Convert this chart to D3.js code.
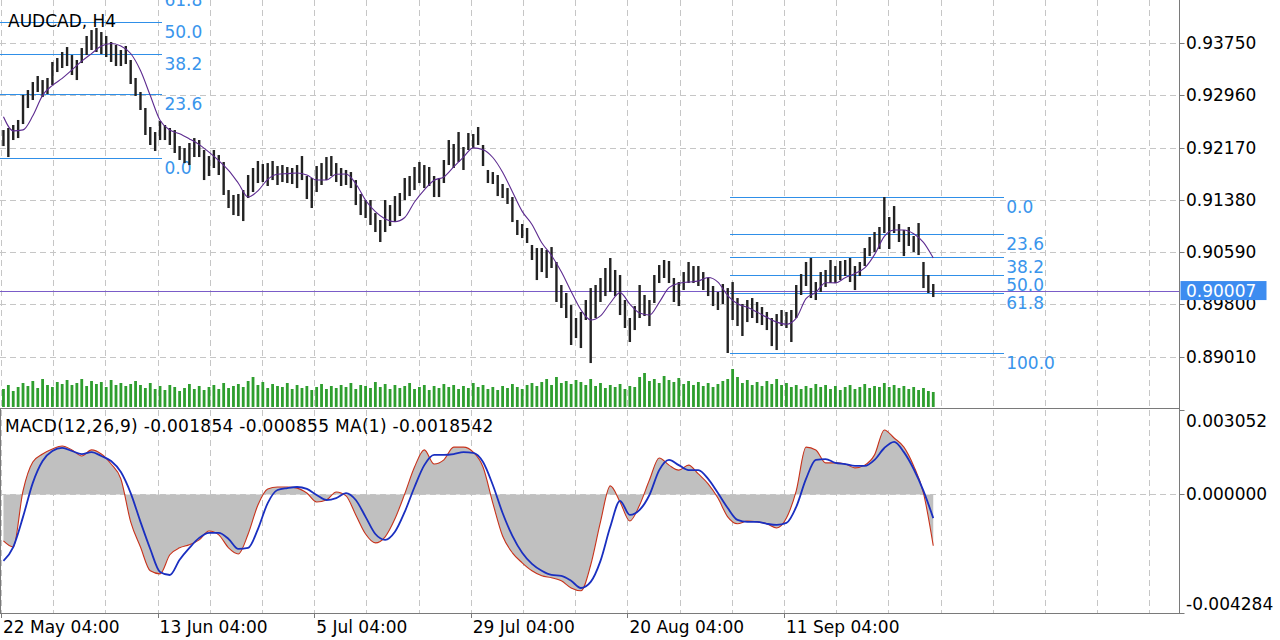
<!DOCTYPE html>
<html><head><meta charset="utf-8">
<script src="https://cdn.jsdelivr.net/npm/d3@7"></script>
<style>
html,body{margin:0;padding:0;background:#fff;}
svg{display:block;font-family:"DejaVu Sans",sans-serif;}
</style></head><body>
<svg id="chart" width="1280" height="640"></svg>
<script>
// ---- data (12-hour aggregated bars, 3 H4 bars each) ----
const highs=[0.92434,0.92465,0.92510,0.92586,0.92964,0.93039,0.93160,0.93251,0.93190,0.93221,
0.93463,0.93523,0.93614,0.93689,0.93568,0.93493,0.93674,0.93856,0.93946,0.93977,
0.93916,0.93856,0.93765,0.93720,0.93644,0.93705,0.93493,0.93221,0.93009,0.92767,
0.92480,0.92404,0.92571,0.92510,0.92465,0.92434,0.92192,0.92162,0.92238,0.92313,
0.92283,0.92132,0.92041,0.92132,0.92056,0.91951,0.91527,0.91452,0.91467,0.91527,
0.91754,0.91860,0.91966,0.91920,0.91935,0.91966,0.91890,0.91905,0.91875,0.91860,
0.91905,0.92041,0.91739,0.91709,0.91890,0.91935,0.92026,0.92041,0.91935,0.91860,
0.91830,0.91799,0.91678,0.91467,0.91376,0.91376,0.91179,0.91074,0.91376,0.91300,
0.91436,0.91482,0.91709,0.91739,0.91875,0.91951,0.91905,0.91875,0.91739,0.91709,
0.91981,0.92283,0.92223,0.92404,0.92177,0.92389,0.92374,0.92480,0.92208,0.91830,
0.91799,0.91754,0.91618,0.91557,0.91421,0.91074,0.91013,0.90953,0.90696,0.90650,
0.90650,0.90620,0.90665,0.90439,0.90091,0.89970,0.89788,0.89592,0.89683,0.89864,
0.90045,0.90091,0.90197,0.90348,0.90499,0.90318,0.90242,0.89864,0.89592,0.89773,
0.90091,0.89940,0.89864,0.90242,0.90393,0.90469,0.90454,0.90197,0.90136,0.90287,
0.90439,0.90378,0.90378,0.90287,0.90197,0.90076,0.89985,0.90106,0.90045,0.90136,
0.89894,0.89804,0.89864,0.89894,0.89834,0.89758,0.89683,0.89592,0.89652,0.89713,
0.89683,0.89713,0.90091,0.90257,0.90439,0.90499,0.90136,0.90287,0.90318,0.90469,
0.90378,0.90454,0.90469,0.90499,0.90378,0.90439,0.90650,0.90817,0.90892,0.90968,
0.91421,0.91119,0.91285,0.91013,0.90922,0.90968,0.90832,0.91028,0.90439,0.90242,
0.90106];
const lows=[0.92192,0.92026,0.92283,0.92313,0.92525,0.92767,0.92888,0.93009,0.92933,0.92979,
0.93115,0.93311,0.93372,0.93402,0.93266,0.93190,0.93447,0.93568,0.93644,0.93614,
0.93584,0.93538,0.93463,0.93402,0.93402,0.93432,0.93130,0.92949,0.92737,0.92359,
0.92208,0.92117,0.92283,0.92283,0.92208,0.92087,0.91981,0.91935,0.91905,0.92026,
0.92026,0.91678,0.91739,0.91860,0.91754,0.91452,0.91255,0.91149,0.91134,0.91058,
0.91406,0.91497,0.91633,0.91648,0.91588,0.91678,0.91603,0.91648,0.91633,0.91618,
0.91557,0.91678,0.91391,0.91255,0.91497,0.91603,0.91678,0.91739,0.91648,0.91588,
0.91603,0.91557,0.91300,0.91149,0.91104,0.90998,0.90892,0.90741,0.90892,0.90983,
0.91043,0.91134,0.91376,0.91436,0.91527,0.91633,0.91557,0.91588,0.91421,0.91421,
0.91633,0.91905,0.91860,0.91951,0.91830,0.92132,0.92162,0.92208,0.91890,0.91633,
0.91618,0.91436,0.91406,0.91316,0.91043,0.90847,0.90801,0.90726,0.90469,0.90166,
0.90287,0.90197,0.90348,0.89834,0.89743,0.89592,0.89184,0.89289,0.89138,0.89562,
0.88911,0.89592,0.89834,0.89924,0.89985,0.89924,0.89637,0.89441,0.89229,0.89410,
0.89592,0.89622,0.89471,0.89819,0.90121,0.90197,0.90121,0.89834,0.89773,0.90015,
0.90121,0.90121,0.90076,0.90015,0.89924,0.89773,0.89713,0.89804,0.89063,0.89562,
0.89471,0.89320,0.89531,0.89592,0.89516,0.89486,0.89410,0.89168,0.89108,0.89471,
0.89441,0.89229,0.89592,0.89940,0.90076,0.89894,0.89864,0.89985,0.90061,0.90121,
0.90121,0.90166,0.90227,0.90136,0.90015,0.90227,0.90378,0.90529,0.90590,0.90635,
0.90877,0.90635,0.90877,0.90741,0.90529,0.90681,0.90590,0.90544,0.90045,0.89970,
0.89909];
const volumes=[1800,2200,1600,2000,2400,2100,2600,1900,2800,2200,
2000,2500,2300,2700,2200,2400,2800,2100,2600,2300,
2500,2000,2700,2200,2400,2100,2300,2600,2200,1900,
2400,1800,2100,1700,2200,2000,1600,1900,2300,1800,
2100,1700,2000,2200,1800,2400,1900,2100,2300,2000,
2600,3000,2200,2500,1900,2300,2100,2000,2400,1800,
2200,1900,2100,1700,2000,2300,1800,2100,1900,2200,
2000,2400,1800,2200,2100,1900,2500,2000,2300,1800,
2200,1900,2100,2400,1800,2000,2200,1700,2100,1900,
2300,2000,2200,1800,2100,1900,2400,2000,2200,1800,
2000,1700,2100,1900,2300,2000,1800,2200,2400,2100,
2500,2800,2200,3000,2400,2600,2300,2700,2500,2200,
2800,2100,2400,1900,2200,2000,2300,1800,2100,2000,
3000,3400,2600,2800,2400,3100,2700,2500,2900,2300,
2600,2200,2500,2100,2400,2000,2300,2600,2800,3800,
3000,2400,2700,2200,2500,2100,2600,2300,2800,2200,
2400,2000,2200,1800,2100,1900,2300,2000,2200,1800,
2100,1700,2000,2200,1800,2000,2300,1900,2100,2000,
2400,2000,2200,1900,2100,1800,2000,1700,1900,1600,
1500];
// moving average, one value per two bars
const maValues=[0.92636,0.92422,0.92437,0.92649,0.92958,0.93109,0.93215,0.93343,0.93475,0.93590,
0.93703,0.93742,0.93705,0.93591,0.93334,0.92956,0.92581,0.92434,0.92377,0.92300,
0.92214,0.92100,0.91972,0.91824,0.91630,0.91421,0.91515,0.91688,0.91765,0.91775,
0.91784,0.91753,0.91678,0.91678,0.91766,0.91769,0.91622,0.91372,0.91199,0.91089,
0.91048,0.91111,0.91346,0.91530,0.91675,0.91724,0.91877,0.92025,0.92164,0.92137,
0.92019,0.91796,0.91500,0.91204,0.91007,0.90729,0.90538,0.90290,0.89994,0.89716,
0.89562,0.89624,0.89819,0.89976,0.89802,0.89667,0.89637,0.89829,0.90051,0.90115,
0.90136,0.90151,0.90204,0.90135,0.89931,0.89807,0.89754,0.89681,0.89602,0.89530,
0.89497,0.89590,0.89884,0.89980,0.90126,0.90123,0.90201,0.90265,0.90349,0.90550,
0.90827,0.90922,0.90922,0.90865,0.90736,0.90499];
// MACD main and signal, one value per two bars
const macdValues=[-0.00168,-0.00190,0.00013,0.00117,0.00146,0.00164,0.00175,0.00161,0.00139,0.00161,
0.00146,0.00110,0.00056,-0.00099,-0.00190,-0.00276,-0.00287,-0.00218,-0.00193,-0.00182,
-0.00164,-0.00132,-0.00146,-0.00193,-0.00215,-0.00143,-0.00038,0.00020,0.00027,0.00027,
0.00023,0.00005,-0.00027,-0.00020,0.00009,-0.00005,-0.00074,-0.00143,-0.00175,-0.00153,
-0.00088,0.00002,0.00099,0.00161,0.00110,0.00125,0.00171,0.00171,0.00153,0.00099,
-0.00031,-0.00150,-0.00211,-0.00247,-0.00276,-0.00294,-0.00301,-0.00312,-0.00338,-0.00348,
-0.00255,-0.00099,0.00031,-0.00027,-0.00096,-0.00038,0.00052,0.00132,0.00106,0.00088,
0.00106,0.00074,0.00038,-0.00013,-0.00081,-0.00106,-0.00096,-0.00099,-0.00106,-0.00121,
-0.00085,0.00013,0.00171,0.00161,0.00114,0.00114,0.00110,0.00096,0.00106,0.00143,
0.00233,0.00204,0.00171,0.00103,0.00005,-0.001854];
const signalValues=[-0.00240,-0.00190,-0.00081,0.00042,0.00121,0.00157,0.00168,0.00157,0.00146,0.00153,
0.00139,0.00121,0.00081,0.00005,-0.00099,-0.00197,-0.00280,-0.00291,-0.00236,-0.00193,
-0.00157,-0.00139,-0.00139,-0.00161,-0.00197,-0.00193,-0.00125,-0.00031,0.00016,0.00023,
0.00027,0.00020,-0.00002,-0.00020,-0.00013,0.00005,-0.00020,-0.00081,-0.00143,-0.00164,
-0.00135,-0.00063,0.00027,0.00106,0.00143,0.00143,0.00146,0.00153,0.00150,0.00117,
0.00034,-0.00067,-0.00150,-0.00211,-0.00251,-0.00276,-0.00291,-0.00294,-0.00312,-0.00338,
-0.00316,-0.00240,-0.00117,-0.00023,-0.00074,-0.00056,-0.00002,0.00088,0.00125,0.00106,
0.00088,0.00088,0.00056,0.00005,-0.00049,-0.00092,-0.00099,-0.00099,-0.00106,-0.00110,
-0.00103,-0.00045,0.00056,0.00125,0.00128,0.00114,0.00110,0.00103,0.00103,0.00125,
0.00168,0.00190,0.00153,0.00092,0.00013,-0.000855];

const priceTicks=[0.93750,0.92960,0.92170,0.91380,0.90590,0.89800,0.89010];
const priceTickLabels=["0.93750","0.92960","0.92170","0.91380","0.90590","0.89800","0.89010"];
const macdTicks=[0.003052,0,-0.004284];
const macdTickLabels=["0.003052","0.000000","-0.004284"];
const dateTickBars=[0,96,192,288,384,480];
const dateTickLabels=["22 May 04:00","13 Jun 04:00","5 Jul 04:00","29 Jul 04:00","20 Aug 04:00","11 Sep 04:00"];
const fibRatios=[0,23.6,38.2,50,61.8,100];
const fibRatioLabels=["0.0","23.6","38.2","50.0","61.8","100.0"];
const fibLeftPrices=[0.92004,0.96131];   // level 0, level 100
const fibLeftBars=[-1,99];
const fibRightPrices=[0.91426,0.89058];
const fibRightBars=[447,615];
const currentPrice=0.90007;
const symbolTitle="AUDCAD, H4";
const macdTitle="MACD(12,26,9) -0.001854 -0.000855 MA(1) -0.0018542";

// ---- layout ----
const W=1280,H=640,FS=17;
const plotRight=1179.5;
const priceTop=0,priceBottom=408;
const macdTop=410,macdBottom=613;
const svg=d3.select("#chart");
const x=d3.scaleLinear().domain([0,96]).range([1,157.6]); // in H4 bars
const y=d3.scaleLinear().domain([0.93750,0.89010]).range([43,356.5]);
const ym=d3.scaleLinear().domain([0.003052,-0.004284]).range([macdTop,macdBottom]);
const yv=d3.scaleLinear().domain([0,4000]).range([priceBottom-1,priceBottom-41]);
const barX=i=>x(3*i+1.5);
const pairX=k=>x(6*k+1.5);

svg.append("rect").attr("width",W).attr("height",H).attr("fill","#fff");
const defs=svg.append("defs");
defs.append("clipPath").attr("id","cp").append("rect").attr("x",0).attr("y",0).attr("width",plotRight).attr("height",priceBottom);
defs.append("clipPath").attr("id","cm").append("rect").attr("x",0).attr("y",macdTop).attr("width",plotRight).attr("height",macdBottom-macdTop);

// grid
const gridColor="#c6c6c6";
const grid=svg.append("g").attr("stroke",gridColor).attr("stroke-width",1).attr("stroke-dasharray","6,4").attr("fill","none").attr("shape-rendering","crispEdges");
const vGrid=d3.range(0,23).map(k=>32*k).filter(b=>x(b)<plotRight-3);
grid.selectAll("line.v").data(vGrid).join("line").attr("class","v")
  .attr("x1",d=>Math.round(x(d))+0.5).attr("x2",d=>Math.round(x(d))+0.5).attr("y1",0).attr("y2",macdBottom);
grid.selectAll("line.h").data(priceTicks).join("line").attr("class","h")
  .attr("x1",0).attr("x2",plotRight).attr("y1",d=>Math.round(y(d))+0.5).attr("y2",d=>Math.round(y(d))+0.5);
grid.append("line").attr("x1",0).attr("x2",plotRight).attr("y1",Math.round(ym(0))+0.5).attr("y2",Math.round(ym(0))+0.5);

// price panel
const pp=svg.append("g").attr("clip-path","url(#cp)");
// volumes
pp.append("g").attr("fill","#2e9e2e").selectAll("rect").data(volumes).join("rect")
  .attr("x",(d,i)=>barX(i)-1.4).attr("width",2.8)
  .attr("y",d=>yv(d)).attr("height",d=>yv(0)-yv(d));
// fibonacci
function drawFib(prices,bars,labelX){
  const g=pp.append("g");
  const lv=fibRatios.map((r,j)=>({r,lab:fibRatioLabels[j],p:prices[0]+(prices[1]-prices[0])*r/100}));
  g.selectAll("line").data(lv).join("line")
    .attr("x1",x(bars[0])).attr("x2",x(bars[1]))
    .attr("y1",d=>Math.round(y(d.p))+0.5).attr("y2",d=>Math.round(y(d.p))+0.5)
    .attr("stroke","#2f8fe8").attr("stroke-width",1).attr("shape-rendering","crispEdges");
  g.selectAll("text").data(lv).join("text")
    .attr("x",labelX).attr("y",d=>y(d.p)+16)
    .attr("fill","#3a95ec").attr("font-size",FS).text(d=>d.lab);
}
drawFib(fibLeftPrices,fibLeftBars,x(fibLeftBars[1])+2);
drawFib(fibRightPrices,fibRightBars,x(fibRightBars[1])+2);
// current price line
pp.append("line").attr("x1",0).attr("x2",plotRight).attr("y1",Math.round(y(currentPrice))+0.5).attr("y2",Math.round(y(currentPrice))+0.5)
  .attr("stroke","#7a5cc8").attr("stroke-width",1.2);
// bars
pp.append("g").attr("fill","#222").selectAll("rect").data(highs).join("rect")
  .attr("x",(d,i)=>barX(i)-1.2).attr("width",2.4)
  .attr("y",d=>y(d)).attr("height",(d,i)=>Math.max(1,y(lows[i])-y(d)));
// moving average
pp.append("path").datum(maValues).attr("fill","none").attr("stroke","#5d2b90").attr("stroke-width",1.1)
  .attr("d",d3.line().x((d,k)=>pairX(k)).y(d=>y(d)).curve(d3.curveMonotoneX));
// title
svg.append("text").attr("x",8).attr("y",27).attr("font-size",FS).attr("fill","#000").text(symbolTitle);

// MACD panel
const mp=svg.append("g").attr("clip-path","url(#cm)");
mp.append("path").datum(macdValues).attr("fill","#c0c0c0")
  .attr("d",d3.area().x((d,k)=>pairX(k)).y0(ym(0)).y1(d=>ym(d)).curve(d3.curveMonotoneX));
mp.append("path").datum(macdValues).attr("fill","none").attr("stroke","#c8321a").attr("stroke-width",1.1)
  .attr("d",d3.line().x((d,k)=>pairX(k)).y(d=>ym(d)).curve(d3.curveMonotoneX));
mp.append("path").datum(signalValues).attr("fill","none").attr("stroke","#1a2fc0").attr("stroke-width",1.8)
  .attr("d",d3.line().x((d,k)=>pairX(k)).y(d=>ym(d)).curve(d3.curveMonotoneX));
svg.append("text").attr("x",5).attr("y",432).attr("font-size",FS).attr("letter-spacing",0.3).attr("fill","#000").text(macdTitle);

// frame lines
const axisColor="#7a7a7a";
svg.append("line").attr("x1",0).attr("x2",plotRight).attr("y1",priceBottom+0.5).attr("y2",priceBottom+0.5).attr("stroke",axisColor);
svg.append("line").attr("x1",0).attr("x2",plotRight).attr("y1",macdBottom+0.5).attr("y2",macdBottom+0.5).attr("stroke",axisColor);
svg.append("line").attr("x1",plotRight).attr("x2",plotRight).attr("y1",0).attr("y2",macdBottom+1).attr("stroke",axisColor);
svg.append("line").attr("x1",0.5).attr("x2",0.5).attr("y1",priceBottom).attr("y2",macdBottom).attr("stroke",axisColor);

// price axis
const pa=svg.append("g");
pa.selectAll("line").data(priceTicks).join("line")
  .attr("x1",plotRight).attr("x2",plotRight+5).attr("y1",d=>Math.round(y(d))+0.5).attr("y2",d=>Math.round(y(d))+0.5).attr("stroke",axisColor);
pa.selectAll("text").data(priceTicks).join("text")
  .attr("x",1186).attr("y",d=>y(d)+6).attr("font-size",FS).attr("fill","#000").text((d,i)=>priceTickLabels[i]);
// current price tag
pa.append("rect").attr("x",plotRight+1).attr("y",y(currentPrice)-9.5).attr("width",86).attr("height",19).attr("fill","#3d8cf0");
pa.append("text").attr("x",1186).attr("y",y(currentPrice)+6).attr("font-size",FS).attr("fill","#fff").text(d3.format(".5f")(currentPrice));

// MACD axis
const ma=svg.append("g");
ma.selectAll("line").data(macdTicks).join("line")
  .attr("x1",plotRight).attr("x2",plotRight+5).attr("y1",d=>Math.round(ym(d))+0.5).attr("y2",d=>Math.round(ym(d))+0.5).attr("stroke",axisColor);
const macdLabelY=[ym(macdTicks[0])+17,ym(macdTicks[1])+6,ym(macdTicks[2])-3];
ma.selectAll("text").data(macdTicks).join("text")
  .attr("x",1186).attr("y",(d,i)=>macdLabelY[i]).attr("font-size",FS).attr("fill","#000").text((d,i)=>macdTickLabels[i]);

// time axis
const ta=svg.append("g");
ta.selectAll("line").data(dateTickBars).join("line")
  .attr("x1",d=>Math.round(x(d))+0.5).attr("x2",d=>Math.round(x(d))+0.5).attr("y1",macdBottom).attr("y2",macdBottom+5).attr("stroke",axisColor);
ta.selectAll("text").data(dateTickBars).join("text")
  .attr("x",d=>x(d)+2).attr("y",633).attr("font-size",FS).attr("fill","#000").text((d,i)=>dateTickLabels[i]);
</script>
</body></html>
